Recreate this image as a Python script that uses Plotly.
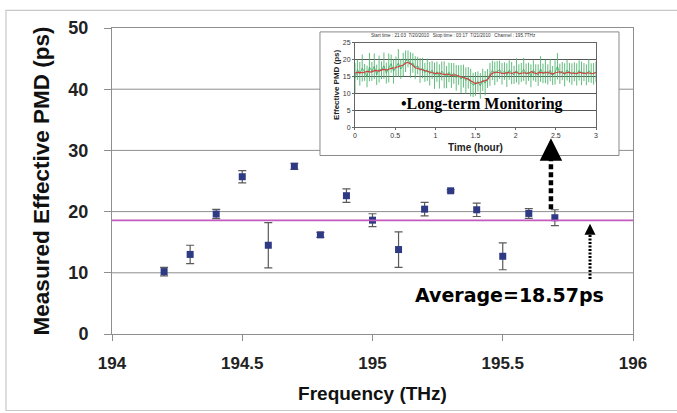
import numpy as np
import plotly.graph_objects as go

# ---------------- main chart data ----------------
freq_thz = [194.2, 194.3, 194.4, 194.5, 194.6, 194.7, 194.8, 194.9,
            195.0, 195.1, 195.2, 195.3, 195.4, 195.5, 195.6, 195.7]
pmd_ps = [10.2, 13.0, 19.6, 25.7, 14.5, 27.4, 16.2, 22.6,
          18.6, 13.8, 20.4, 23.4, 20.3, 12.7, 19.7, 19.0]
pmd_err = [0.7, 1.5, 0.75, 1.0, 3.7, 0.5, 0.4, 1.1,
           1.05, 2.9, 1.1, 0.2, 1.1, 2.2, 0.8, 1.3]
average_pmd = 18.57
x_ticks = [194, 194.5, 195, 195.5, 196]
x_tick_text = ["194", "194.5", "195", "195.5", "196"]
y_ticks = [0, 10, 20, 30, 40, 50]
y_grid = [10, 20, 30, 40]

# arrows (data coordinates of main chart)
avg_arrow_x, avg_arrow_tip, avg_arrow_tail = 195.835, 18.0, 9.0
mon_arrow_x, mon_arrow_tip, mon_arrow_tail = 195.685, 32.0, 20.4

# ---------------- inset data ----------------
inset_title = "Start time : 21:03  7/20/2010   Stop time : 03:17  7/21/2010   Channel : 195.7THz"
green_pmd = [14.5, 17.0, 15.8, 17.5, 16.2, 15.0, 17.8, 16.5, 18.0, 15.5, 17.2,
             16.8, 18.2, 16.0, 17.5, 18.8, 16.5, 17.9, 19.0, 17.2, 18.5,
             19.5, 20.2, 18.4, 19.0, 17.6, 18.2, 16.8, 17.5, 16.2, 17.0,
             15.8, 16.9, 15.2, 16.4, 15.0, 16.6, 15.5, 14.8, 16.2, 15.3,
             15.9, 14.6, 15.4, 14.2, 15.1, 13.8, 14.6, 13.2, 12.5, 12.8,
             13.5, 12.2, 14.0, 13.0, 14.4, 15.6, 16.8, 15.9, 16.5, 17.0,
             15.8, 16.6, 15.4, 16.9, 16.0, 15.5, 16.8, 15.6, 16.2, 17.1,
             15.7, 16.4, 15.2, 16.8, 16.0, 15.4, 17.2, 15.9, 16.5, 15.6,
             16.9, 15.3, 16.2, 18.0, 15.8, 16.6, 15.5, 16.9, 16.1, 15.7,
             16.4, 15.6, 16.8, 15.9, 16.3, 15.5, 16.7, 16.0, 15.8, 16.3]
green_err = [4.5, 3.0, 3.5, 4.0, 2.5, 3.2, 4.2, 2.8, 3.8, 3.0, 4.0,
             2.6, 3.9, 3.1, 4.3, 2.7, 3.6, 3.0, 4.1, 2.9, 3.5,
             3.2, 2.5, 3.8, 2.9, 3.4, 2.6, 3.7, 3.0, 2.8, 3.3,
             3.5, 2.7, 3.9, 3.0, 3.6, 2.8, 4.0, 3.3, 2.9, 3.7,
             3.1, 3.8, 2.9, 4.2, 3.4, 3.9, 3.2, 4.1, 3.6, 3.5,
             3.0, 3.8, 3.3, 3.6, 2.8, 3.4, 2.9, 3.5, 3.1, 2.7,
             3.2, 2.6, 3.5, 2.9, 3.3, 2.7, 3.6, 3.0, 2.8, 3.4,
             3.1, 2.7, 3.4, 3.0, 2.6, 3.2, 3.8, 2.9, 3.5, 3.0,
             3.3, 2.8, 3.6, 3.9, 3.0, 2.7, 3.4, 3.1, 2.9, 3.2,
             2.8, 3.3, 3.0, 3.5, 2.7, 3.1, 3.4, 2.9, 3.2, 3.0]
red_pmd = [16.0, 16.2, 16.1, 16.5, 16.3, 16.8, 16.6, 17.1, 16.9, 17.4,
           17.6, 18.1, 18.4, 19.2, 18.7, 17.6, 17.2, 16.9, 16.5, 16.2,
           15.9, 16.0, 15.6, 15.7, 15.3, 15.5, 15.0, 14.7, 14.3, 13.6,
           12.9, 13.2, 13.6, 14.0, 15.8, 16.3, 16.1, 15.8, 16.2, 15.9,
           16.3, 15.8, 16.1, 15.9, 16.4, 15.8, 16.2, 16.0, 16.3, 15.7,
           16.1, 16.4, 15.9, 16.2, 16.0, 15.8, 16.2, 15.9, 16.1, 15.8, 16.2]
time_green = np.linspace(0, 3, len(green_pmd))
time_red = np.linspace(0, 3, len(red_pmd))
inset_x_ticks = [0, 0.5, 1, 1.5, 2, 2.5, 3]
inset_x_text = ["0", "0.5", "1", "1.5", "2", "2.5", "3"]
inset_y_ticks = [0, 5, 10, 15, 20, 25]

FONT = "Liberation Sans"

fig = go.Figure()

# main series
fig.add_trace(go.Scatter(
    x=freq_thz, y=pmd_ps, mode="markers",
    marker=dict(symbol="square", size=7, color="#2f3a85"),
    error_y=dict(type="data", array=pmd_err, color="#5a5a5a", thickness=1.2, width=4),
    xaxis="x", yaxis="y", showlegend=False, hoverinfo="skip"))

# average line
fig.add_trace(go.Scatter(
    x=[x_ticks[0], x_ticks[-1]], y=[average_pmd, average_pmd], mode="lines",
    line=dict(color="#c35bbf", width=1.6),
    xaxis="x", yaxis="y", showlegend=False, hoverinfo="skip"))

# inset series
fig.add_trace(go.Scatter(
    x=time_green, y=green_pmd, mode="lines",
    line=dict(color="#3fa862", width=0.8),
    error_y=dict(type="data", array=green_err, color="#4fb46e", thickness=0.9, width=0),
    xaxis="x2", yaxis="y2", showlegend=False, hoverinfo="skip"))
fig.add_trace(go.Scatter(
    x=time_red, y=red_pmd, mode="lines",
    line=dict(color="#d23c3c", width=1.1),
    xaxis="x2", yaxis="y2", showlegend=False, hoverinfo="skip"))

shapes = [
    # outer frame (right/bottom edges fall just outside the page)
    dict(type="rect", xref="paper", yref="paper", x0=-0.2035, x1=1.09, y0=-0.25, y1=1.0577,
         line=dict(color="#c8c8c8", width=1.2), fillcolor="rgba(0,0,0,0)", layer="below"),
]
# main gridlines (drawn below, so the inset box can hide them)
for g in y_grid:
    shapes.append(dict(type="line", xref="paper", yref="y", x0=0, x1=1, y0=g, y1=g,
                       line=dict(color="#8e8e8e", width=1), layer="below"))
shapes += [
    # inset white box
    dict(type="rect", xref="paper", yref="paper", x0=0.3992, x1=0.9731, y0=0.5833, y1=0.9872,
         line=dict(color="#8a8a8a", width=1), fillcolor="white", layer="below"),
    # dotted shafts
    dict(type="line", xref="x", yref="y", x0=avg_arrow_x, x1=avg_arrow_x,
         y0=avg_arrow_tail, y1=avg_arrow_tip - 1.0,
         line=dict(color="black", width=3, dash="2px,1.5px"), layer="above"),
    dict(type="line", xref="x", yref="y", x0=mon_arrow_x, x1=mon_arrow_x,
         y0=mon_arrow_tail, y1=mon_arrow_tip - 2.5,
         line=dict(color="black", width=4.5, dash="5px,3px"), layer="above"),
]

annotations = [
    dict(text="Average=18.57ps", x=0.762, y=0.128, xref="paper", yref="paper",
         xanchor="center", yanchor="middle",
         showarrow=False, font=dict(family="DejaVu Sans", size=19, color="black", weight="bold")),
    dict(x=avg_arrow_x, y=avg_arrow_tip, xref="x", yref="y", ax=0, ay=7, text="",
         showarrow=True, arrowhead=2, arrowsize=1.1, arrowwidth=2, arrowcolor="black"),
    dict(x=mon_arrow_x, y=mon_arrow_tip, xref="x", yref="y", ax=0, ay=15, text="",
         showarrow=True, arrowhead=2, arrowsize=1.0, arrowwidth=4.5, arrowcolor="black"),
    dict(text="•Long-term Monitoring", x=0.7105, y=0.753, xref="paper", yref="paper",
         xanchor="center", yanchor="middle",
         showarrow=False, font=dict(family="Liberation Serif", size=16, color="black", weight="bold")),
    dict(text=inset_title, x=0.656, y=0.974, xref="paper", yref="paper",
         xanchor="center", yanchor="middle",
         showarrow=False, font=dict(family=FONT, size=4.6, color="#333")),
]

fig.update_layout(
    width=677, height=413,
    margin=dict(l=112, r=44, t=28, b=73),
    paper_bgcolor="white", plot_bgcolor="white",
    showlegend=False,
    shapes=shapes, annotations=annotations,
    xaxis=dict(
        range=[194, 196], tickvals=x_ticks, ticktext=x_tick_text,
        showgrid=False, zeroline=False,
        showline=True, linecolor="#8e8e8e", linewidth=1, mirror=True,
        ticks="outside", ticklen=6, tickcolor="#8e8e8e",
        tickfont=dict(family=FONT, size=17, color="#222", weight="bold"),
        ticklabelstandoff=8,
        title=dict(text="Frequency (THz)", standoff=14,
                   font=dict(family=FONT, size=19, color="#111", weight="bold")),
    ),
    yaxis=dict(
        range=[0, 50], tickvals=y_ticks,
        showgrid=False, zeroline=False,
        showline=True, linecolor="#8e8e8e", linewidth=1, mirror=True,
        ticks="outside", ticklen=7, tickcolor="#8e8e8e",
        tickfont=dict(family=FONT, size=18, color="#222", weight="bold"),
        ticklabelstandoff=12,
        title=dict(text="Measured Effective PMD (ps)", standoff=12,
                   font=dict(family=FONT, size=22.5, color="#111", weight="bold")),
    ),
    xaxis2=dict(
        domain=[0.4664, 0.9290], anchor="y2", range=[0, 3],
        tickvals=inset_x_ticks, ticktext=inset_x_text,
        showgrid=False, zeroline=False,
        showline=True, linecolor="#666", linewidth=1, mirror=True,
        ticks="outside", ticklen=2, tickcolor="#666",
        tickfont=dict(family=FONT, size=7, color="#333"),
        title=dict(text="Time (hour)", standoff=5,
                   font=dict(family=FONT, size=10, color="#222", weight="bold")),
    ),
    yaxis2=dict(
        domain=[0.6763, 0.9519], anchor="x2", range=[0, 25],
        tickvals=inset_y_ticks,
        showgrid=True, gridcolor="#555", gridwidth=1.2, zeroline=False,
        showline=True, linecolor="#666", linewidth=1, mirror=True,
        ticks="outside", ticklen=2, tickcolor="#666",
        tickfont=dict(family=FONT, size=7, color="#333"),
        title=dict(text="Effective PMD (ps)", standoff=1,
                   font=dict(family=FONT, size=8, color="#222", weight="bold")),
    ),
)

fig.write_html(
    "out.html", config={"displayModeBar": False},
    post_script=("document.documentElement.style.overflow='hidden';"
                 "document.body.style.margin='0px';"
                 "document.body.style.overflow='hidden';"
                 "window.scrollTo(0,0);"))
